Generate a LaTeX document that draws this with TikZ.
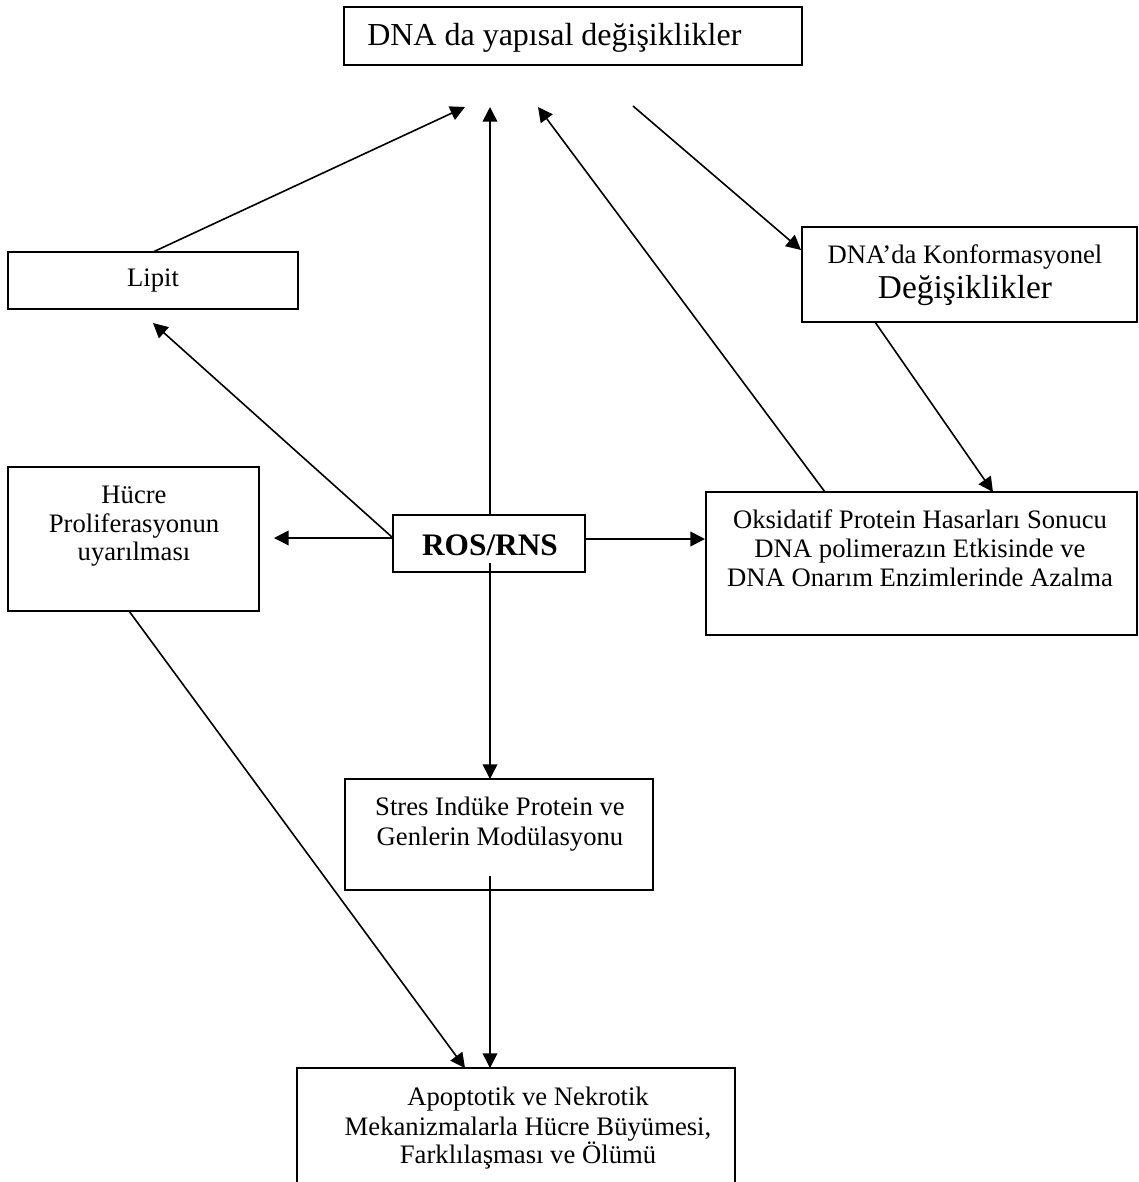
\documentclass[tikz,border=0pt]{standalone}
\usepackage{fontspec}
\setmainfont{Liberation Serif}
\usetikzlibrary{arrows.meta,fit}
\begin{document}
\begin{tikzpicture}[x=0.75pt,y=-0.75pt,
  box/.style={draw, line width=1.5pt, inner sep=0pt},
  txt/.style={inner sep=0pt, anchor=base, font=\fontsize{20}{24}\selectfont},
  conn/.style={line width=1.2pt, -{Triangle[length=11pt,width=11pt]}}]
\useasboundingbox (0,0) rectangle (1139,1182);

% boxes
\node[box, fit={(344,7)(802,65)}] (title) {};
\node[box, fit={(8,252)(298,309)}] (lipit) {};
\node[box, fit={(802,227)(1137,322)}] (konf) {};
\node[box, fit={(8,467)(259,611)}] (hucre) {};
\node[box, fit={(393,515)(585,572)}] (ros) {};
\node[box, fit={(706,492)(1137,635)}] (oks) {};
\node[box, fit={(345,779)(653,890)}] (stres) {};
\node[box, fit={(297,1068)(735,1190)}] (apop) {};

% texts
\node[txt, anchor=base west, font=\fontsize{24}{28}\selectfont] (titletxt) at (367,45) {DNA da yapısal değişiklikler};
\node[txt] (lipittxt) at (153,286) {Lipit};
\node[txt] (konf1) at (965,263) {DNA’da Konformasyonel};
\node[txt, font=\fontsize{25}{30}\selectfont] (konf2) at (965,298) {Değişiklikler};
\node[txt] (hucre1) at (134,503) {Hücre};
\node[txt] (hucre2) at (134,532) {Proliferasyonun};
\node[txt] (hucre3) at (134,560) {uyarılması};
\node[txt, font=\fontsize{23.5}{28}\selectfont\bfseries] (rostxt) at (490,555) {ROS/RNS};
\node[txt] (oks1) at (920,528) {Oksidatif Protein Hasarları Sonucu};
\node[txt] (oks2) at (920,557) {DNA polimerazın Etkisinde ve};
\node[txt] (oks3) at (920,586) {DNA Onarım Enzimlerinde Azalma};
\node[txt] (stres1) at (500,815) {Stres Indüke Protein ve};
\node[txt] (stres2) at (500,845) {Genlerin Modülasyonu};
\node[txt] (apop1) at (528,1105) {Apoptotik ve Nekrotik};
\node[txt] (apop2) at (528,1135) {Mekanizmalarla Hücre Büyümesi,};
\node[txt] (apop3) at (528,1163) {Farklılaşması ve Ölümü};

% connector end points
\coordinate (lipitN) at (153,252);
\coordinate (t1) at (465,107);
\coordinate (rosN) at (490,515);
\coordinate (t2) at (490,107);
\coordinate (oksN) at (825,492);
\coordinate (t3) at (538,107);
\coordinate (t4) at (633,106);
\coordinate (konfW) at (801,250);
\coordinate (konfS) at (875,322);
\coordinate (oksNE) at (993,492);
\coordinate (rosNW) at (393,538);
\coordinate (lipitS) at (153,323);
\coordinate (hucreE) at (274,538);
\coordinate (rosE) at (585,539);
\coordinate (oksW) at (705,539);
\coordinate (rosS) at (490,563);
\coordinate (stresN) at (490,779);
\coordinate (hucreS) at (129,611);
\coordinate (apopN1) at (465,1068);
\coordinate (stresS) at (490,876);
\coordinate (apopN2) at (490,1068);

% connectors
\draw[conn] (lipitN) -- (t1);
\draw[conn] (rosN) -- (t2);
\draw[conn] (oksN) -- (t3);
\draw[conn] (t4) -- (konfW);
\draw[conn] (konfS) -- (oksNE);
\draw[conn] (rosNW) -- (lipitS);
\draw[conn] (rosNW) -- (hucreE);
\draw[conn] (rosE) -- (oksW);
\draw[conn] (rosS) -- (stresN);
\draw[conn] (hucreS) -- (apopN1);
\draw[conn] (stresS) -- (apopN2);
\end{tikzpicture}
\end{document}
